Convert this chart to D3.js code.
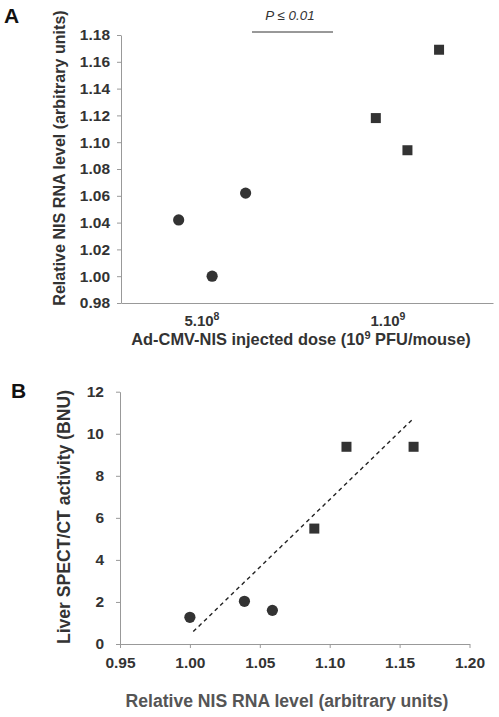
<!DOCTYPE html>
<html>
<head>
<meta charset="utf-8">
<script src="https://cdn.jsdelivr.net/npm/d3@7"></script>
<style>
  body { margin: 0; background: #fff; }
  svg { display: block; }
  text { font-family: "Liberation Sans", Arial, sans-serif; }
</style>
</head>
<body>
<svg id="chart" width="499" height="717"></svg>
<script>
// ---------- Panel A data ----------
const doseCategories = ["5.10", "1.10"];
const doseExponents = ["8", "9"];
const lowDoseRNA = [1.042, 1.000, 1.062];     // circles
const lowDoseJitter = [-0.19, -0.01, 0.17];
const highDoseRNA = [1.118, 1.094, 1.169];    // squares
const highDoseJitter = [-0.13, 0.04, 0.21];
const yTicksA = [0.98, 1.00, 1.02, 1.04, 1.06, 1.08, 1.10, 1.12, 1.14, 1.16, 1.18];
const pValueLabel = "P \u2264 0.01";

// ---------- Panel B data ----------
const circleRNA = [1.000, 1.039, 1.059];
const circleSPECT = [1.27, 2.03, 1.60];
const squareRNA = [1.089, 1.112, 1.160];
const squareSPECT = [5.49, 9.38, 9.38];
const trendRNA = [1.0024, 1.159];
const trendSPECT = [0.59, 10.67];
const xTicksB = [0.95, 1.00, 1.05, 1.10, 1.15, 1.20];
const yTicksB = [0, 2, 4, 6, 8, 10, 12];

const svg = d3.select("#chart");
const axisColor = "#999";
const markColor = "#333";
const textColor = "#333";

function styleAxis(g) {
  g.selectAll("path.domain").attr("stroke", axisColor).attr("stroke-width", 1);
  g.selectAll(".tick line").attr("stroke", axisColor).attr("stroke-width", 1);
  g.selectAll(".tick text")
    .attr("fill", textColor)
    .style("font-family", '"Liberation Sans", Arial, sans-serif')
    .style("font-weight", "bold")
    .style("font-size", "15.5px");
}

// ================= Panel A =================
const xA = d3.scaleLinear().domain([0, 2]).range([121, 493]);
const yA = d3.scaleLinear().domain([0.98, 1.18]).range([303, 35]);

svg.append("text").attr("x", 4).attr("y", 23)
  .attr("font-size", 21).attr("font-weight", "bold").attr("fill", "#111").text("A");

const gyA = svg.append("g").attr("transform", `translate(${xA.range()[0]},0)`)
  .call(d3.axisLeft(yA).tickValues(yTicksA).tickFormat(d3.format(".2f")).tickSize(4).tickSizeOuter(0).tickPadding(7));
styleAxis(gyA);

const gxA = svg.append("g").attr("transform", `translate(0,${yA.range()[0]})`)
  .call(d3.axisBottom(xA).tickValues([]).tickSizeOuter(0));
styleAxis(gxA);

// category labels
doseCategories.forEach((c, i) => {
  const t = svg.append("text")
    .attr("x", xA(i + 0.5 - 0.065)).attr("y", 326)
    .attr("text-anchor", "middle").attr("font-weight", "bold").attr("font-size", 15)
    .attr("fill", textColor);
  t.append("tspan").text(c);
  t.append("tspan").attr("dy", -6).attr("font-size", 10.5).text(doseExponents[i]);
});

// x title A
const xtA = svg.append("text").attr("x", 301).attr("y", 345)
  .attr("text-anchor", "middle").attr("font-weight", "bold").attr("font-size", 16.4)
  .attr("fill", textColor);
xtA.append("tspan").text("Ad-CMV-NIS injected dose (10");
xtA.append("tspan").attr("dy", -6).attr("font-size", 11).text("9");
xtA.append("tspan").attr("dy", 6).text(" PFU/mouse)");

// y title A
svg.append("text").attr("transform", "translate(65,158) rotate(-90)")
  .attr("text-anchor", "middle").attr("font-weight", "bold").attr("font-size", 16.1)
  .attr("fill", textColor).text("Relative NIS RNA level (arbitrary units)");

// P value
svg.append("text").attr("x", 290).attr("y", 20).attr("text-anchor", "middle")
  .attr("font-style", "italic").attr("font-size", 13.4).attr("fill", textColor).text(pValueLabel);
svg.append("line").attr("x1", 252).attr("x2", 333).attr("y1", 32).attr("y2", 32)
  .attr("stroke", "#333").attr("stroke-width", 1);

// points A
svg.append("g").selectAll("circle").data(lowDoseRNA).join("circle")
  .attr("cx", (d, i) => xA(0.5 + lowDoseJitter[i]))
  .attr("cy", d => yA(d)).attr("r", 5.6).attr("fill", markColor);
svg.append("g").selectAll("rect").data(highDoseRNA).join("rect")
  .attr("x", (d, i) => xA(1.5 + highDoseJitter[i]) - 5)
  .attr("y", d => yA(d) - 5).attr("width", 10).attr("height", 10).attr("fill", markColor);

// ================= Panel B =================
const xB = d3.scaleLinear().domain([0.95, 1.20]).range([120, 469.5]);
const yB = d3.scaleLinear().domain([0, 12]).range([644, 391.7]);

svg.append("text").attr("x", 11).attr("y", 398)
  .attr("font-size", 21).attr("font-weight", "bold").attr("fill", "#111").text("B");

const gyB = svg.append("g").attr("transform", `translate(${xB.range()[0]},0)`)
  .call(d3.axisLeft(yB).tickValues(yTicksB).tickFormat(d3.format("d")).tickSize(4).tickSizeOuter(0).tickPadding(12));
styleAxis(gyB);

const gxB = svg.append("g").attr("transform", `translate(0,${yB.range()[0]})`)
  .call(d3.axisBottom(xB).tickValues(xTicksB).tickFormat(d3.format(".2f")).tickSize(4).tickSizeOuter(0).tickPadding(9));
styleAxis(gxB);

svg.append("text").attr("transform", "translate(70,517) rotate(-90)")
  .attr("text-anchor", "middle").attr("font-weight", "bold").attr("font-size", 17.6)
  .attr("fill", textColor).text("Liver SPECT/CT activity (BNU)");

svg.append("text").attr("x", 287).attr("y", 707)
  .attr("text-anchor", "middle").attr("font-weight", "bold").attr("font-size", 17.6)
  .attr("fill", "#555").text("Relative NIS RNA level (arbitrary units)");

// trend line
svg.append("line")
  .attr("x1", xB(trendRNA[0])).attr("y1", yB(trendSPECT[0]))
  .attr("x2", xB(trendRNA[1])).attr("y2", yB(trendSPECT[1]))
  .attr("stroke", "#222").attr("stroke-width", 1.4).attr("stroke-dasharray", "4,3.5");

svg.append("g").selectAll("circle").data(circleRNA).join("circle")
  .attr("cx", d => xB(d)).attr("cy", (d, i) => yB(circleSPECT[i]))
  .attr("r", 5.6).attr("fill", markColor);
svg.append("g").selectAll("rect").data(squareRNA).join("rect")
  .attr("x", d => xB(d) - 5).attr("y", (d, i) => yB(squareSPECT[i]) - 5)
  .attr("width", 10).attr("height", 10).attr("fill", markColor);
</script>
</body>
</html>
